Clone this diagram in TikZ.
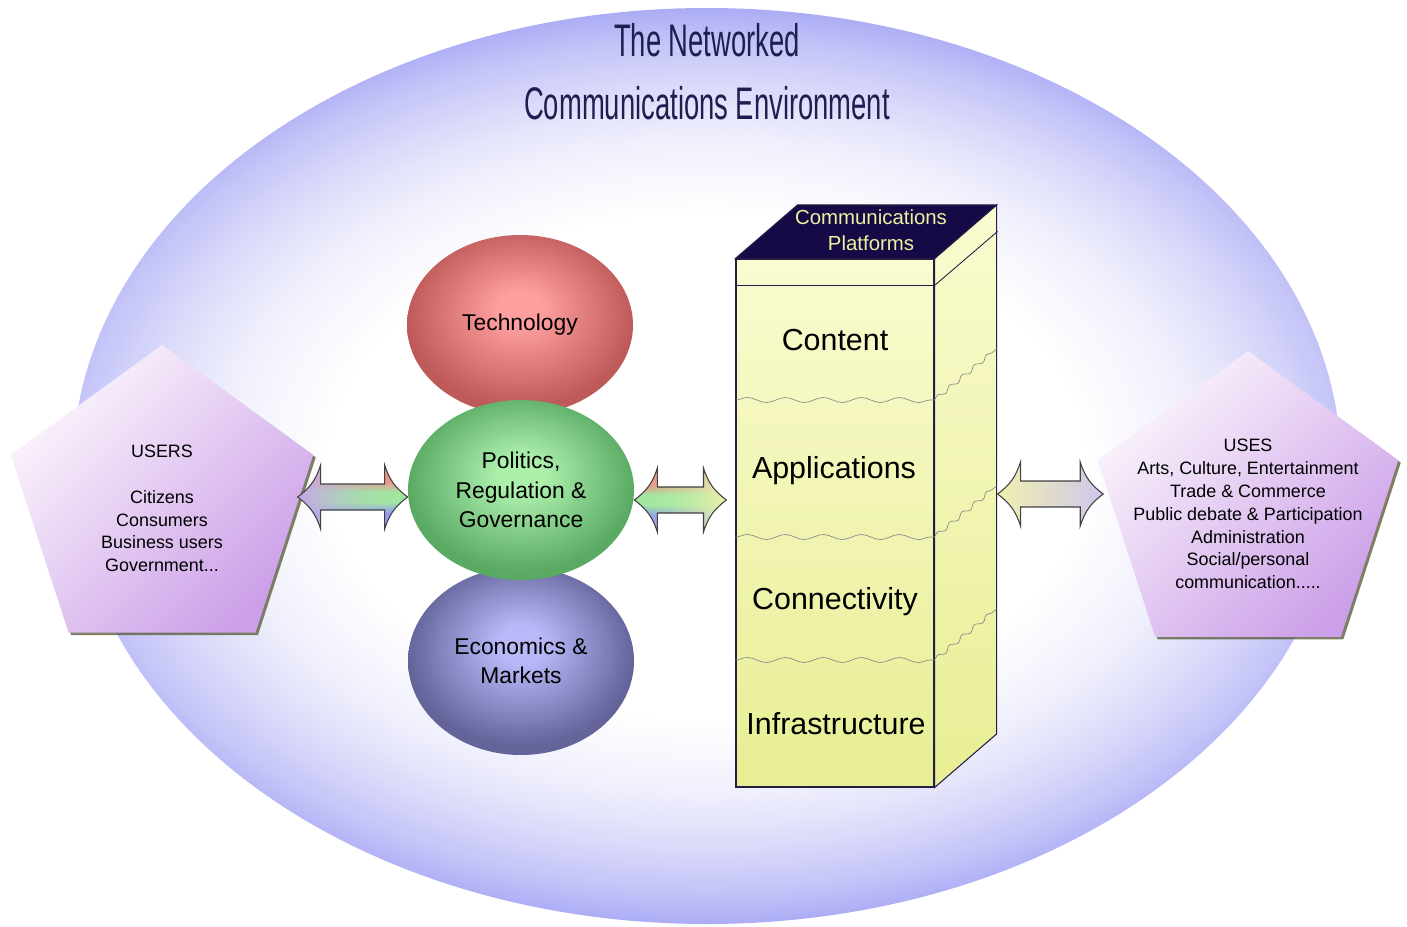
\documentclass[tikz,border=0pt]{standalone}
\usepackage{fontspec}
\setmainfont{Liberation Sans}
\usetikzlibrary{shapes.geometric, shadows, decorations.pathmorphing, calc, fadings}

\definecolor{envedge}{RGB}{172,172,246}
\definecolor{envouter}{RGB}{195,195,248}
\definecolor{envband}{RGB}{214,214,250}
\definecolor{envmid}{RGB}{228,228,251}
\definecolor{envinner}{RGB}{241,241,253}
\definecolor{titlenavy}{RGB}{30,30,80}
\definecolor{techlit}{RGB}{255,158,158}
\definecolor{techdark}{RGB}{190,90,90}
\definecolor{polylit}{RGB}{172,240,172}
\definecolor{polydark}{RGB}{90,170,100}
\definecolor{econlit}{RGB}{185,185,250}
\definecolor{econdark}{RGB}{100,100,155}
\definecolor{pentlit}{RGB}{251,245,252}
\definecolor{pentdark}{RGB}{204,160,232}
\definecolor{shadowcol}{RGB}{95,95,65}
\definecolor{lidfill}{RGB}{22,10,70}
\definecolor{lidtext}{RGB}{240,240,160}
\definecolor{boxtop}{RGB}{250,251,208}
\definecolor{boxbottom}{RGB}{232,238,148}
\definecolor{boxline}{RGB}{35,30,70}
\definecolor{arrpurple}{RGB}{200,165,235}
\definecolor{arrgreen}{RGB}{160,232,160}
\definecolor{arrred}{RGB}{250,135,135}
\definecolor{arrblue}{RGB}{145,145,250}
\definecolor{arrcream}{RGB}{250,250,232}
\definecolor{arryellow}{RGB}{240,240,175}
\definecolor{arrlav}{RGB}{208,198,236}

% shadings for the background and the three balls (path edge sits at 25bp)
\pgfdeclareradialshading{envglow}{\pgfpoint{0bp}{0bp}}{color(0bp)=(white); color(13.75bp)=(white); color(17.5bp)=(envinner); color(19.5bp)=(envmid); color(21.25bp)=(envband); color(23.25bp)=(envouter); color(25bp)=(envedge); color(50bp)=(envedge)}
\pgfdeclareradialshading{techball}{\pgfpoint{0bp}{5bp}}{color(0bp)=(techlit); color(5bp)=(techlit); color(25bp)=(techdark); color(50bp)=(techdark)}
\pgfdeclareradialshading{polyball}{\pgfpoint{0bp}{5bp}}{color(0bp)=(polylit); color(5bp)=(polylit); color(25bp)=(polydark); color(50bp)=(polydark)}
\pgfdeclareradialshading{econball}{\pgfpoint{0bp}{5bp}}{color(0bp)=(econlit); color(5bp)=(econlit); color(25bp)=(econdark); color(50bp)=(econdark)}
% red / green / blue tint for the arrow heads next to the balls
\pgfdeclareverticalshading{rgbtint}{100bp}{color(0bp)=(arrblue); color(38bp)=(arrblue); color(46bp)=(arrgreen); color(54bp)=(arrgreen); color(62bp)=(arrred); color(100bp)=(arrred)}

\tikzfading[name=fadeR, left color=transparent!100, middle color=transparent!100, right color=transparent!0]
\tikzfading[name=fadeL, left color=transparent!0, middle color=transparent!100, right color=transparent!100]

% fat double arrow with hollow heads, tip to tip
\newcommand{\biarrow}[3]{%
  \path[#1] (#2) to[bend right=18] ++(0.46,0.64) -- ++(0,-0.38)
    -- ($(#3)+(-0.46,0.26)$) -- ++(0,0.38) to[bend right=18] (#3)
    to[bend right=18] ++(-0.46,-0.64) -- ++(0,0.38)
    -- ($(#2)+(0.46,-0.26)$) -- ++(0,-0.38) to[bend right=18] (#2) -- cycle;}

\tikzset{
  ball/.style={ellipse, minimum width=4.52cm, minimum height=3.6cm, inner sep=0pt,
    align=center, font=\fontsize{13}{16.8}\selectfont},
  pentagon/.style={regular polygon, regular polygon sides=5, minimum size=6.36cm, inner sep=0pt,
    top color=pentlit, bottom color=pentdark, shading angle=45,
    drop shadow={shadow xshift=0.05cm, shadow yshift=-0.05cm, fill=shadowcol, opacity=0.8}},
  penttext/.style={align=center, font=\fontsize{10.2}{13}\selectfont},
  layer/.style={font=\fontsize{17.3}{20}\selectfont},
  boxedge/.style={draw=boxline, line width=0.6pt},
  wave/.style={draw=black!45, line width=0.4pt, decorate,
    decoration={snake, segment length=0.76cm, amplitude=0.05cm}},
  sidewave/.style={draw=black!45, line width=0.4pt, decorate,
    decoration={snake, segment length=0.32cm, amplitude=0.04cm}},
  arrowline/.style={draw=black!75, line width=0.6pt},
  titletext/.style={text=titlenavy, font=\fontsize{26}{30}\selectfont}
}

\begin{document}
\begin{tikzpicture}
  \useasboundingbox (0,0) rectangle (28.14,-18.52);

  % environment, glow squeezed a little towards the sides
  \begin{scope}
    \clip (14.14,-9.32) ellipse [x radius=12.68, y radius=9.16];
    \shade[shading=envglow] (14.14,-9.32) ellipse [x radius=13.7, y radius=9.16];
  \end{scope}
  \node[titletext] (title1) at (14.14,-0.8) {\scalebox{0.6}[1]{The Networked}};
  \node[titletext] (title2) at (14.14,-2.06) {\scalebox{0.6}[1]{Communications Environment}};

  % the three forces
  \node[ball, shading=techball] (tech) at (10.4,-6.5) {Technology};
  \node[ball, shading=econball, minimum height=3.76cm] (econ) at (10.42,-13.22) {Economics \&\\Markets};
  \node[ball, shading=polyball] (policy) at (10.42,-9.8) {Politics,\\Regulation \&\\Governance};

  % users and uses
  \node[pentagon] (users) at (3.24,-10.08) {};
  \node[penttext] (usersT) at ([yshift=-0.09cm]users.center)
    {USERS\\[13pt]Citizens\\Consumers\\Business users\\Government...};
  \node[pentagon, minimum size=6.32cm] (uses) at (24.96,-10.18) {};
  \node[penttext] (usesT) at ([yshift=-0.1cm]uses.center)
    {USES\\Arts, Culture, Entertainment\\Trade \& Commerce\\Public debate \& Participation\\Administration\\Social/personal\\communication.....};

  % platform stack
  \node[boxedge, top color=boxtop, bottom color=boxbottom, minimum width=3.96cm,
    minimum height=10.56cm, inner sep=0pt] (front) at (16.7,-10.46) {};
  \path[boxedge, top color=boxtop, bottom color=boxbottom] (front.north east) -- ++(1.24,1.07)
    -- ($(front.south east)+(1.24,1.07)$) -- (front.south east) -- cycle;
  \path[boxedge, fill=lidfill] (front.north west) -- (front.north east) -- ++(1.24,1.07)
    -- ($(front.north west)+(1.24,1.07)$) -- cycle;
  \draw[boxline, line width=0.5pt] ($(front.north west)+(0,-0.54)$) -- ($(front.north east)+(0,-0.54)$) -- ++(1.26,1.08);
  \foreach \y in {-8.0,-10.74,-13.2} {
    \draw[wave] (front.west |- 0,\y) -- (front.east |- 0,\y);
    \draw[sidewave] (front.east |- 0,\y) -- ++(1.24,1.02);
  }
  \node[align=center, text=lidtext, font=\fontsize{11.6}{14.8}\selectfont] (platT) at (17.42,-4.6)
    {Communications\\Platforms};
  \node[layer] (content) at (16.7,-6.8) {Content};
  \node[layer] (apps) at (16.68,-9.42) {Applications};
  \node[layer] (conn) at (16.7,-12.04) {Connectivity};
  \node[layer] (infra) at (16.72,-14.48) {Infrastructure};

  % arrows
  \coordinate (uL) at ([yshift=0.14cm]users.east);
  \coordinate (uR) at (policy.west |- uL);
  \coordinate (mL) at ([yshift=-0.2cm]policy.east);
  \coordinate (mR) at ($(front.west |- mL)+(-0.18,0)$);
  \coordinate (rL) at ($(front.east)+(1.26,0.58)$);
  \coordinate (rR) at ($(uses.west |- rL)+(-0.2,0)$);

  \biarrow{left color=arrpurple, middle color=white, right color=arrgreen}{uL}{uR}
  \biarrow{shading=rgbtint, path fading=fadeR}{uL}{uR}
  \biarrow{arrowline}{uL}{uR}

  \biarrow{left color=arrgreen, middle color=arrcream, right color=arryellow}{mL}{mR}
  \biarrow{shading=rgbtint, path fading=fadeL}{mL}{mR}
  \biarrow{arrowline}{mL}{mR}

  \biarrow{left color=arryellow, middle color=white, right color=arrlav}{rL}{rR}
  \biarrow{arrowline}{rL}{rR}
\end{tikzpicture}
\end{document}
